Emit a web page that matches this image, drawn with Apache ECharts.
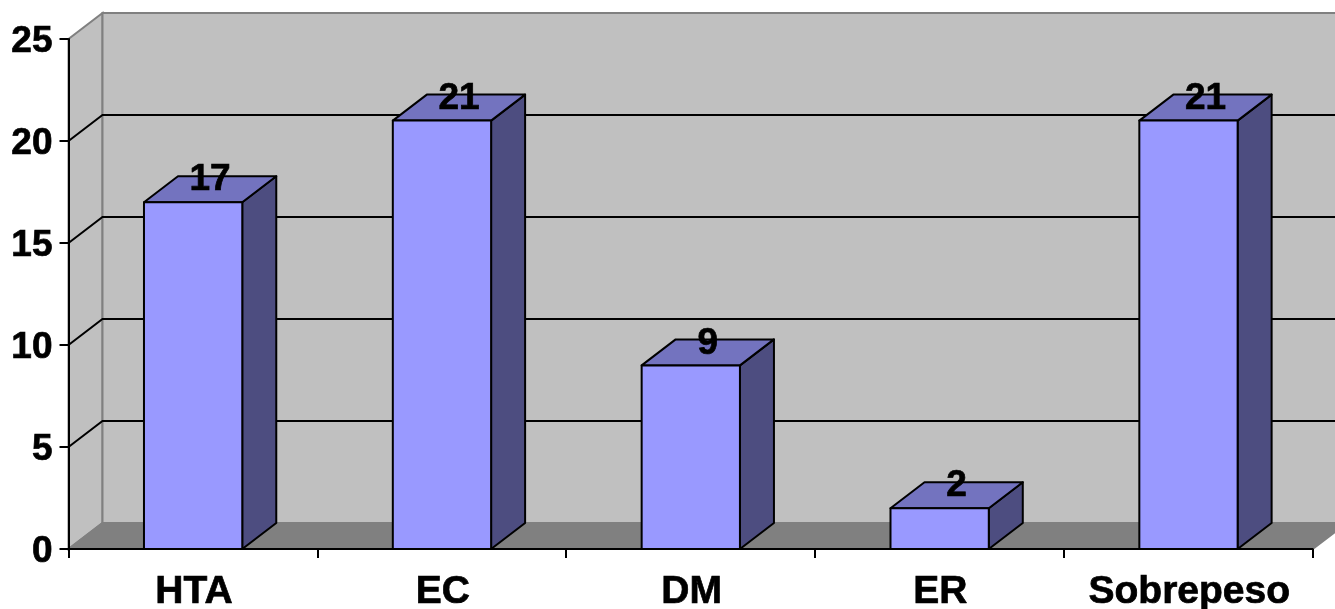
<!DOCTYPE html>
<html>
<head>
<meta charset="utf-8">
<style>
  html, body { margin: 0; padding: 0; background: #fff; }
  #chart { width: 1335px; height: 609px; }
</style>
<script src="https://cdn.jsdelivr.net/npm/echarts@6/dist/echarts.min.js"></script>
</head>
<body>
<div id="chart"></div>
<script>
const categories = ['HTA', 'EC', 'DM', 'ER', 'Sobrepeso'];
const barValues = [17, 21, 9, 2, 21];
const wallTicks = [5, 10, 15, 20];
const axisMax = 25;

// Oblique offset of the back plane relative to the front plane, in pixels.
const DEPTH_X = 34;
const DEPTH_Y = 26;
const BAR_RATIO = 0.395;
const FONT_FAMILY = '"Liberation Sans", Arial, sans-serif';

function shift(p, dx, dy) { return [p[0] + dx, p[1] + dy]; }

// Left wall, back wall and floor of the box behind the bars.
function renderRoom(params, api) {
  const band = api.size([1, 0])[0];
  const x0 = api.coord([0, 0])[0] - band / 2;
  const x1 = x0 + band * categories.length;
  const yBottom = api.coord([0, 0])[1];
  const yTop = api.coord([0, axisMax])[1];
  const fl = [x0, yBottom], fh = [x0, yTop];
  const bl = shift(fl, DEPTH_X, -DEPTH_Y), bh = shift(fh, DEPTH_X, -DEPTH_Y);
  const br = [x1 + DEPTH_X, bl[1]], brTop = [x1 + DEPTH_X, bh[1]];
  const edge = { stroke: '#808080', lineWidth: 2 };
  return {
    type: 'group',
    children: [
      { type: 'polygon', shape: { points: [fl, fh, bh, bl] }, style: { fill: '#C0C0C0', ...edge } },
      { type: 'polygon', shape: { points: [bl, bh, brTop, br] }, style: { fill: '#C0C0C0', ...edge } },
      { type: 'polygon', shape: { points: [fl, bl, br, [x1, yBottom]] }, style: { fill: '#808080', ...edge } }
    ]
  };
}

// One black gridline per tick: across the back wall and down the left wall.
function renderGridline(params, api) {
  const band = api.size([1, 0])[0];
  const x0 = api.coord([0, 0])[0] - band / 2;
  const x1 = x0 + band * categories.length;
  const y = api.coord([0, api.value(0)])[1];
  return {
    type: 'polyline',
    shape: { points: [[x0, y], [x0 + DEPTH_X, y - DEPTH_Y], [x1 + DEPTH_X, y - DEPTH_Y]] },
    style: { stroke: '#000', lineWidth: 2, fill: null }
  };
}

// Extruded column: side face, top face, front face, then the value label.
function renderBar(params, api) {
  const cat = api.value(0), val = api.value(1);
  const band = api.size([1, 0])[0];
  const w = band * BAR_RATIO;
  const cx = api.coord([cat, 0])[0] + 0.2;
  const yBase = api.coord([cat, 0])[1];
  const yTop = api.coord([cat, val])[1];
  const l = cx - w / 2, r = cx + w / 2;
  const stroke = { stroke: '#000', lineWidth: 2, lineJoin: 'round' };
  return {
    type: 'group',
    children: [
      { type: 'polygon', shape: { points: [[r, yTop], [r + DEPTH_X, yTop - DEPTH_Y], [r + DEPTH_X, yBase - DEPTH_Y], [r, yBase]] },
        style: { fill: '#4D4D80', ...stroke } },
      { type: 'polygon', shape: { points: [[l, yTop], [l + DEPTH_X, yTop - DEPTH_Y], [r + DEPTH_X, yTop - DEPTH_Y], [r, yTop]] },
        style: { fill: '#7373BF', ...stroke } },
      { type: 'polygon', shape: { points: [[l, yTop], [r, yTop], [r, yBase], [l, yBase]] },
        style: { fill: '#9999FF', ...stroke } },
      { type: 'text', x: cx + DEPTH_X / 2, y: yTop - 22,
        style: { text: String(val), fontFamily: FONT_FAMILY, fontWeight: 'bold', fontSize: 37,
                 fill: '#000', stroke: '#000', lineWidth: 0.7, align: 'center', verticalAlign: 'middle' } }
    ]
  };
}

const chart = echarts.init(document.getElementById('chart'), null, { renderer: 'canvas' });
chart.setOption({
  animation: false,
  backgroundColor: '#fff',
  grid: { left: 68.5, right: 22.3, top: 39, bottom: 60, outerBoundsMode: 'none' },
  xAxis: {
    type: 'category',
    data: categories,
    z: 10,
    axisLine: { show: true, lineStyle: { color: '#000', width: 2 } },
    axisTick: { show: true, alignWithLabel: false, interval: 0, length: 9, lineStyle: { color: '#000', width: 2 } },
    axisLabel: { margin: 24, interval: 0, color: '#000', fontFamily: FONT_FAMILY, fontWeight: 'bold', fontSize: 39,
                 padding: [0, 0, 0, 2], textBorderColor: '#000', textBorderWidth: 0.7 },
    splitLine: { show: false }
  },
  yAxis: {
    type: 'value',
    min: 0,
    max: axisMax,
    interval: 5,
    z: 10,
    axisLine: { show: true, lineStyle: { color: '#000', width: 2 } },
    axisTick: { show: true, length: 9, lineStyle: { color: '#000', width: 2 } },
    axisLabel: {
      margin: 16,
      formatter: '{n|{value}}',
      rich: {
        // Top padding nudges the numerals just below their tick.
        n: { padding: [6, 0, 0, 0], color: '#000', fontFamily: FONT_FAMILY, fontWeight: 'bold', fontSize: 37,
             textBorderColor: '#000', textBorderWidth: 0.7 }
      }
    },
    splitLine: { show: false }
  },
  series: [
    { type: 'custom', z: 1, silent: true, clip: false, renderItem: renderRoom, data: [0], encode: { x: 0 } },
    { type: 'custom', z: 2, silent: true, clip: false, renderItem: renderGridline, data: wallTicks.map(v => [v]), encode: { y: 0 } },
    { type: 'custom', z: 3, silent: true, clip: false, renderItem: renderBar,
      data: barValues.map((v, i) => [i, v]), encode: { x: 0, y: 1 } }
  ]
});
</script>
</body>
</html>
